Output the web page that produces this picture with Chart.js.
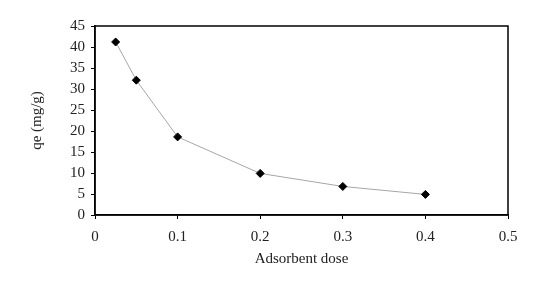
<!DOCTYPE html>
<html lang="en">
<head>
  <meta charset="UTF-8">
  <title>Adsorbent dose</title>
  <script src="https://cdn.jsdelivr.net/npm/chart.js"></script>
  <style>
    html, body { margin: 0; padding: 0; background: #fff; }
  </style>
</head>
<body>
  <div style="width: 552px; height: 290px;">
    <canvas id="doseChart"></canvas>
  </div>

  <script>
    const doses = [0.025, 0.05, 0.1, 0.2, 0.3, 0.4];
    const qe = [41.2, 32.1, 18.6, 9.9, 6.8, 4.9];

    const points = doses.map((d, i) => ({ x: d, y: qe[i] }));

    // box around the plot area (top and right edges too)
    const frame = {
      id: 'frame',
      afterDraw(chart) {
        const a = chart.chartArea;
        const ctx = chart.ctx;
        ctx.save();
        ctx.strokeStyle = '#000';
        ctx.lineWidth = 1.5;
        ctx.strokeRect(a.left, a.top, a.right - a.left, a.bottom - a.top);
        ctx.restore();
      }
    };

    const font = { family: "'Liberation Serif', 'Times New Roman', serif", size: 15 };

    new Chart(document.getElementById('doseChart'), {
      type: 'scatter',
      data: {
        datasets: [{
          data: points,
          showLine: true,
          borderColor: '#a6a6a6',
          borderWidth: 1,
          pointStyle: 'rectRot',
          pointRadius: 4,
          pointBackgroundColor: '#000',
          pointBorderColor: '#000',
          pointBorderWidth: 1
        }]
      },
      options: {
        responsive: true,
        maintainAspectRatio: false,
        animation: false,
        layout: { padding: { left: 0, top: 26, right: 44, bottom: 0 } },
        plugins: {
          legend: { display: false },
          tooltip: { enabled: false }
        },
        scales: {
          x: {
            type: 'linear',
            min: 0,
            max: 0.5,
            ticks: { stepSize: 0.1, color: '#222', font: font, padding: 9 },
            grid: { drawOnChartArea: false, tickLength: 4, color: '#000' },
            border: { color: '#000', width: 1.5 },
            title: { display: true, text: 'Adsorbent dose', color: '#222', font: font, padding: { bottom: 22 } },
            afterFit: s => { s.height = 75; }
          },
          y: {
            min: 0,
            max: 45,
            ticks: { stepSize: 5, color: '#222', font: font, padding: 6 },
            grid: { drawOnChartArea: false, tickLength: 4, color: '#000' },
            border: { color: '#000', width: 1.5 },
            title: { display: true, text: 'qe (mg/g)', color: '#222', font: font, padding: { top: 28 } },
            afterFit: s => { s.width = 95; }
          }
        }
      },
      plugins: [frame]
    });
  </script>
</body>
</html>
